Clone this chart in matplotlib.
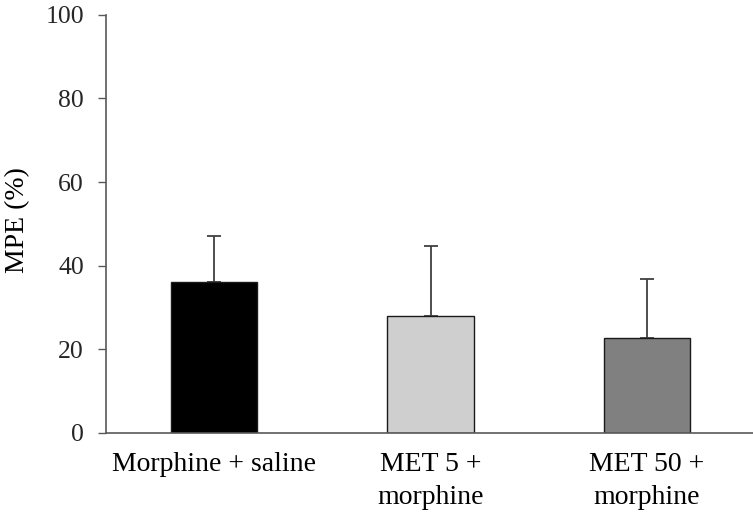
import matplotlib
matplotlib.use("Agg")
import matplotlib.pyplot as plt

# Data
groups = ["Morphine + saline", "MET 5 +\nmorphine", "MET 50 +\nmorphine"]
mpe = [36, 28, 22.7]
sem = [11.2, 16.7, 14.2]
colors = ["#000000", "#d0cfd0", "#808080"]

AXIS = "#595959"

plt.rcParams.update({
    "font.family": ["Liberation Serif", "DejaVu Serif"],
    "font.size": 18,
})

fig = plt.figure(figsize=(7.53, 5.13), dpi=100)
ax = fig.add_axes([0.1408, 0.156, 0.8592, 0.815])

x = list(range(len(groups)))
ax.bar(x, mpe, width=0.4, color=colors, edgecolor="#1a1a1a", linewidth=1.0, zorder=2)
ax.errorbar(x, mpe, yerr=[[0] * len(sem), sem], fmt="none", ecolor="#404040",
            elinewidth=1.3, capsize=4.7, capthick=1.3, zorder=1)

ax.set_ylim(0, 100)
ax.set_yticks([0, 20, 40, 60, 80, 100])
ax.set_xlim(-0.5, 2.49)
ax.set_xticks(x)
ax.set_xticklabels(groups, linespacing=1.42, fontsize=20)
ax.tick_params(axis="x", length=0, pad=14, colors="black")
ax.tick_params(axis="y", length=6, width=1, color=AXIS, pad=10, labelcolor="#262626",
               labelsize=18.5)

fig.text(0.024, 0.571, "MPE (%)", rotation=90, ha="center", va="center", fontsize=20)

for s in ("top", "right"):
    ax.spines[s].set_visible(False)
for s in ("left", "bottom"):
    ax.spines[s].set_color(AXIS)
    ax.spines[s].set_linewidth(1.2)

fig.savefig("out.png", dpi=100)
